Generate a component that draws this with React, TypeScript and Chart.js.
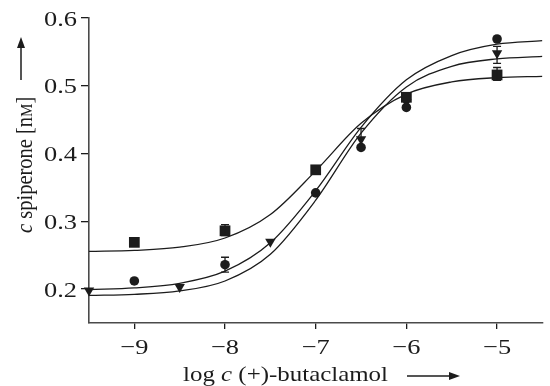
import { useEffect, useRef } from 'react';
import { Chart, registerables } from 'chart.js';

Chart.register(...registerables);

const INK = '#1c1c1c';
const AXIS = '#4a4a4a';
const FONT = '"Liberation Serif", "Times New Roman", serif';

const xTicks = [-9, -8, -7, -6, -5];
const yTicks = [0.2, 0.3, 0.4, 0.5, 0.6];

// measured points
const squareX = [-9, -8, -7, -6, -5];
const squareY = [0.269, 0.286, 0.376, 0.483, 0.516];
const circleX = [-9, -8, -7, -6.5, -6, -5];
const circleY = [0.212, 0.236, 0.342, 0.409, 0.468, 0.569];
const triangleX = [-9.5, -8.5, -7.5, -6.5, -6, -5];
const triangleY = [0.198, 0.203, 0.27, 0.421, 0.476, 0.548];

// error bars
const squareErrX = [-8, -5];
const squareErrLo = [0.279, 0.508];
const squareErrHi = [0.295, 0.527];
const circleErrX = [-8];
const circleErrLo = [0.225];
const circleErrHi = [0.247];
const triangleErrX = [-6.5, -5];
const triangleErrLo = [0.408, 0.533];
const triangleErrHi = [0.437, 0.558];

// fitted curves
const curveX = [-9.5, -9, -8.5, -8, -7.5, -7, -6.5, -6, -5.5, -5, -4.5];
const squareCurve = [0.2557, 0.2572, 0.2618, 0.2754, 0.3101, 0.3745, 0.4446, 0.4877, 0.5057, 0.512, 0.514];
const circleCurve = [0.1994, 0.2018, 0.2086, 0.2264, 0.2683, 0.3452, 0.4387, 0.5088, 0.5446, 0.5613, 0.5665];
const triangleCurve = [0.1907, 0.1923, 0.1973, 0.212, 0.2514, 0.3312, 0.4301, 0.4983, 0.5288, 0.5397, 0.5433];

const pts = (xs: number[], ys: number[]) => xs.map((x, i) => ({ x, y: ys[i] }));

const errorSets = [
  { x: squareErrX, lo: squareErrLo, hi: squareErrHi },
  { x: circleErrX, lo: circleErrLo, hi: circleErrHi },
  { x: triangleErrX, lo: triangleErrLo, hi: triangleErrHi },
];

const fmtX = (v: number) => (v < 0 ? '\u2212' + Math.abs(v) : String(v));
const fmtY = (v: number) => v.toFixed(1);

const errorBarPlugin = {
  id: 'errorBars',
  afterDatasetsDraw(chart: any) {
    const { ctx, scales } = chart;
    const xs = scales.x;
    const ys = scales.y;
    ctx.save();
    ctx.strokeStyle = INK;
    ctx.lineWidth = 1.3;
    errorSets.forEach((set) => {
      set.x.forEach((xv, i) => {
        const px = xs.getPixelForValue(xv);
        const lo = ys.getPixelForValue(set.lo[i]);
        const hi = ys.getPixelForValue(set.hi[i]);
        ctx.beginPath();
        ctx.moveTo(px, lo);
        ctx.lineTo(px, hi);
        ctx.moveTo(px - 4, lo);
        ctx.lineTo(px + 4, lo);
        ctx.moveTo(px - 4, hi);
        ctx.lineTo(px + 4, hi);
        ctx.stroke();
      });
    });
    ctx.restore();
  },
};

type Run = { t: string; f: string };
function runsWidth(ctx: CanvasRenderingContext2D, runs: Run[]) {
  let w = 0;
  runs.forEach((r) => {
    ctx.font = r.f;
    w += ctx.measureText(r.t).width;
  });
  return w;
}
function drawRuns(ctx: CanvasRenderingContext2D, runs: Run[], x: number, y: number) {
  let cx = x;
  runs.forEach((r) => {
    ctx.font = r.f;
    ctx.fillText(r.t, cx, y);
    cx += ctx.measureText(r.t).width;
  });
  return cx - x;
}

function arrow(ctx: CanvasRenderingContext2D, x0: number, x1: number, y: number) {
  ctx.beginPath();
  ctx.moveTo(x0, y);
  ctx.lineTo(x1 - 8, y);
  ctx.lineWidth = 1.5;
  ctx.stroke();
  ctx.beginPath();
  ctx.moveTo(x1, y);
  ctx.lineTo(x1 - 11, y - 4);
  ctx.lineTo(x1 - 11, y + 4);
  ctx.closePath();
  ctx.fill();
}

const tickLabelPlugin = {
  id: 'tickLabels',
  afterDraw(chart: any) {
    const ctx: CanvasRenderingContext2D = chart.ctx;
    const { x, y } = chart.scales;
    const area = chart.chartArea;
    ctx.save();
    ctx.fillStyle = INK;
    ctx.font = `22px ${FONT}`;
    ctx.textBaseline = 'alphabetic';
    const sx = 1.2;
    xTicks.forEach((v) => {
      const px = x.getPixelForValue(v);
      const t = fmtX(v);
      const w = ctx.measureText(t).width * sx;
      ctx.save();
      ctx.translate(px - w / 2, area.bottom + 31);
      ctx.scale(sx, 1);
      ctx.fillText(t, 0, 0);
      ctx.restore();
    });
    yTicks.forEach((v) => {
      const py = y.getPixelForValue(v);
      const t = fmtY(v);
      const w = ctx.measureText(t).width * sx;
      ctx.save();
      ctx.translate(area.left - 12 - w, py + 7.5);
      ctx.scale(sx, 1);
      ctx.fillText(t, 0, 0);
      ctx.restore();
    });
    ctx.restore();
  },
};

const titlePlugin = {
  id: 'titles',
  afterDraw(chart: any) {
    const ctx: CanvasRenderingContext2D = chart.ctx;
    ctx.save();
    ctx.fillStyle = INK;
    ctx.strokeStyle = INK;
    ctx.textBaseline = 'alphabetic';
    ctx.textAlign = 'left';
    const base = `22px ${FONT}`;
    const ital = `italic 22px ${FONT}`;
    // x title
    const xRuns = [
      { t: 'log ', f: base },
      { t: 'c', f: ital },
      { t: ' (+)-butaclamol', f: base },
    ];
    const sx = 205 / runsWidth(ctx, xRuns);
    ctx.save();
    ctx.translate(183, 381);
    ctx.scale(sx, 1);
    drawRuns(ctx, xRuns, 0, 0);
    ctx.restore();
    arrow(ctx, 407, 460, 376);
    // y title
    const yb = `20.5px ${FONT}`;
    const yi = `italic 20.5px ${FONT}`;
    const small = `15px ${FONT}`;
    ctx.save();
    ctx.translate(32, 233);
    ctx.rotate(-Math.PI / 2);
    ctx.save();
    ctx.scale(1, 1.15);
    drawRuns(
      ctx,
      [
        { t: 'c', f: yi },
        { t: ' spiperone [n', f: yb },
        { t: 'M', f: small },
        { t: ']', f: yb },
      ],
      0,
      0
    );
    ctx.restore();
    arrow(ctx, 153, 196, -11);
    ctx.restore();
    ctx.restore();
  },
};

export default function App() {
  const ref = useRef<HTMLCanvasElement>(null);
  useEffect(() => {
    if (!ref.current) return;
    const lineDs = (data: number[]) => ({
      type: 'line' as const,
      data: pts(curveX, data),
      showLine: true,
      borderColor: INK,
      borderWidth: 1.3,
      pointRadius: 0,
      cubicInterpolationMode: 'monotone' as const,
      fill: false,
      order: 2,
    });
    const pointDs = (xs: number[], ys: number[], style: string, r: number, rot = 0) => ({
      type: 'scatter' as const,
      data: pts(xs, ys),
      showLine: false,
      pointStyle: style,
      pointRadius: r,
      pointRotation: rot,
      backgroundColor: INK,
      borderColor: INK,
      borderWidth: 0,
      clip: false as const,
      order: 1,
    });
    const chart = new Chart(ref.current, {
      type: 'scatter',
      data: {
        datasets: [
          pointDs(squareX, squareY, 'rect', 7.6),
          pointDs(circleX, circleY, 'circle', 4.8),
          pointDs(triangleX, triangleY, 'triangle', 6, 180),
          lineDs(squareCurve),
          lineDs(circleCurve),
          lineDs(triangleCurve),
        ] as any,
      },
      options: {
        animation: false,
        responsive: true,
        maintainAspectRatio: false,
        layout: { padding: { left: 0, right: 0, top: 18, bottom: 0 } },
        plugins: { legend: { display: false }, tooltip: { enabled: false } },
        scales: {
          x: {
            type: 'linear',
            min: -9.5,
            max: -4.5,
            afterBuildTicks: (s: any) => {
              s.ticks = xTicks.map((v) => ({ value: v }));
            },
            afterFit: (s: any) => {
              s.height = 63;
            },
            ticks: { display: false },
            grid: { drawOnChartArea: false, tickLength: 6, color: INK, lineWidth: 1.3 },
            border: { color: AXIS, width: 1.6 },
          },
          y: {
            type: 'linear',
            min: 0.15,
            max: 0.6,
            afterBuildTicks: (s: any) => {
              s.ticks = yTicks.map((v) => ({ value: v }));
            },
            afterFit: (s: any) => {
              s.width = 89;
            },
            ticks: { display: false },
            grid: { drawOnChartArea: false, tickLength: 8, color: INK, lineWidth: 1.3 },
            border: { color: AXIS, width: 1.6 },
          },
        },
      },
      plugins: [errorBarPlugin, tickLabelPlugin, titlePlugin],
    });
    return () => chart.destroy();
  }, []);
  return (
    <div style={{ position: 'fixed', left: 0, top: 0, width: 550, height: 386, background: '#fff' }}>
      <canvas ref={ref} />
    </div>
  );
}
